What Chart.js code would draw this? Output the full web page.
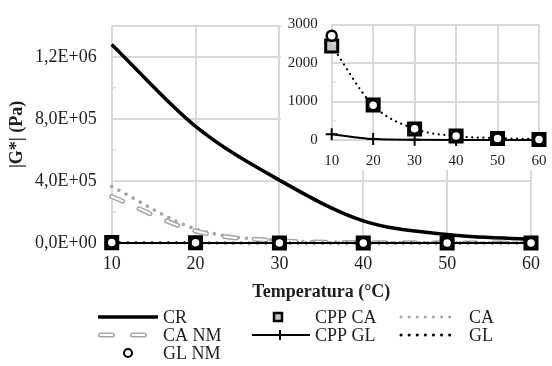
<!DOCTYPE html>
<html><head><meta charset="utf-8">
<script src="https://cdn.jsdelivr.net/npm/chart.js@4"></script>
<style>
html,body{margin:0;padding:0;background:#fff;}
#wrap{position:relative;width:552px;height:366px;overflow:hidden;background:#fff;}
#main{position:absolute;left:0;top:0;}
#inset{position:absolute;left:281px;top:0;background:#fff;}
</style></head><body>
<div id="wrap">
<canvas id="main" width="552" height="366"></canvas>
<canvas id="inset" width="271" height="170"></canvas>
</div>
<script>
// ---- data ----
const temperatures = ['10', '20', '30', '40', '50', '60'];
const crValues     = [1280000, 752000, 405000, 143000, 55000, 23000];
const caValues     = [364000, 91000, 17000, 5000, 2000, 1000];
const caNmValues   = [300000, 77000, 14000, 3000, 1000, 500];
const cppCaValues  = [2440, 910, 285, 104, 40, 15];
const cppGlValues  = [150, 25, 8, 3, 2, 1];
const glValues     = [2450, 900, 290, 100, 50, 20];
const glNmValues   = [2710, 900, 295, 105, 40, 15];
const yMajorTicks  = [0, 400000, 800000, 1200000];
const yTickLabels  = ['0,0E+00', '4,0E+05', '8,0E+05', '1,2E+06'];
const insetYTicks  = [0, 1000, 2000, 3000];
const insetYLabels = ['0', '1000', '2000', '3000'];

// ---- styling ----
const FONT = "'Liberation Serif','Times New Roman',serif";
const GRID = '#d9d9d9';
const TXT = '#1e1e1e';
const GRAY = '#a6a6a6';
const SQFILL = '#c4c4c4';
const NONE = 'rgba(0,0,0,0)';

const minorTicks = {
  id: 'minorTicks',
  afterDatasetsDraw(chart, args, opts) {
    if (!opts || !opts.values) return;
    const ctx = chart.ctx, y = chart.scales.y, left = chart.chartArea.left;
    ctx.save(); ctx.strokeStyle = GRID; ctx.lineWidth = 1.5;
    opts.values.forEach(v => { const py = y.getPixelForValue(v); ctx.beginPath(); ctx.moveTo(left, py); ctx.lineTo(left + 4, py); ctx.stroke(); });
    ctx.restore();
  }
};

const customLegend = {
  id: 'customLegend',
  afterDraw(chart, args, opts) {
    if (!opts || !opts.show) return;
    const ctx = chart.ctx;
    const ds = {}; chart.data.datasets.forEach(d => ds[d.label] = d);
    ctx.save();
    function seg(x1, x2, y, color, w, dash, cap) {
      ctx.beginPath(); ctx.setLineDash(dash || []); ctx.lineCap = cap || 'butt';
      ctx.strokeStyle = color; ctx.lineWidth = w; ctx.moveTo(x1, y); ctx.lineTo(x2, y); ctx.stroke(); ctx.setLineDash([]);
    }
    function text(t, x, y) { ctx.fillStyle = TXT; ctx.font = '18px ' + FONT; ctx.textBaseline = 'middle'; ctx.textAlign = 'left'; ctx.fillText(t, x, y + 1); }
    const r1 = 317, r2 = 335, r3 = 353;
    // CR
    seg(98, 158, r1, ds['CR'].borderColor, 3.5); text('CR', 163, r1);
    // CPP CA
    ctx.fillStyle = SQFILL; ctx.fillRect(274, r1 - 4, 8, 8); ctx.strokeStyle = '#000'; ctx.lineWidth = 2.5; ctx.strokeRect(274, r1 - 4, 8, 8);
    text('CPP CA', 315, r1);
    // CA
    seg(401, 453, r1, GRAY, 3, [0.1, 8], 'round'); text('CA', 469, r1);
    // CA NM
    seg(100.5, 146, r2, GRAY, 5, [12, 20], 'round'); seg(100.5, 146, r2, '#fff', 2, [12, 20], 'round'); text('CA NM', 163, r2);
    // CPP GL
    seg(252, 310, r2, '#000', 2); ctx.beginPath(); ctx.moveTo(280, r2 - 5); ctx.lineTo(280, r2 + 5); ctx.stroke();
    text('CPP GL', 315, r2);
    // GL
    seg(401, 453, r2, '#000', 3, [0.1, 8], 'round'); text('GL', 469, r2);
    // GL NM
    ctx.beginPath(); ctx.arc(128, r3, 4, 0, Math.PI * 2); ctx.fillStyle = '#fff'; ctx.fill(); ctx.lineWidth = 2; ctx.strokeStyle = '#000'; ctx.stroke();
    text('GL NM', 163, r3);
    ctx.restore();
  }
};

function near(v, arr) { return arr.findIndex(a => Math.abs(a - v) < 1); }

// ---- main chart ----
new Chart(document.getElementById('main'), {
  type: 'line',
  data: {
    labels: temperatures,
    datasets: [
      { label: 'GL NM', data: glNmValues, showLine: false, clip: false, pointStyle: 'circle', pointRadius: 5, pointBorderWidth: 2.5, pointBackgroundColor: '#fff', pointBorderColor: '#000', borderColor: '#000', order: 0 },
      { label: 'CPP CA', data: cppCaValues, showLine: false, clip: false, pointStyle: 'rect', pointRadius: 8.5, pointBorderWidth: 3, pointBackgroundColor: SQFILL, pointBorderColor: '#000', borderColor: '#000', order: 1 },
      { label: 'GL', data: glValues, clip: false, borderColor: '#000', borderWidth: 3, borderDash: [0.1, 8], borderCapStyle: 'round', pointRadius: 0, cubicInterpolationMode: 'monotone', order: 2 },
      { label: 'CPP GL', data: cppGlValues, clip: false, borderColor: '#000', borderWidth: 2, pointStyle: 'cross', pointRadius: 6, pointBorderWidth: 2, pointBorderColor: '#000', cubicInterpolationMode: 'monotone', order: 3 },
      { label: 'CR', data: crValues, clip: false, borderColor: '#000', borderWidth: 3.5, pointRadius: 0, cubicInterpolationMode: 'monotone', order: 4 },
      { label: 'CA NM inner', data: caNmValues, borderColor: '#fff', borderWidth: 2, borderDash: [12, 18], borderCapStyle: 'round', pointRadius: 0, cubicInterpolationMode: 'monotone', order: 5 },
      { label: 'CA NM', data: caNmValues, borderColor: GRAY, borderWidth: 5, borderDash: [12, 18], borderCapStyle: 'round', pointRadius: 0, cubicInterpolationMode: 'monotone', order: 6 },
      { label: 'CA', data: caValues, borderColor: GRAY, borderWidth: 3.5, borderDash: [0.1, 8], borderCapStyle: 'round', pointRadius: 0, cubicInterpolationMode: 'monotone', order: 7 }
    ]
  },
  options: {
    responsive: false, animation: false, events: [],
    layout: { padding: { left: 0, right: 21, top: 19, bottom: 53 } },
    plugins: { legend: { display: false }, tooltip: { enabled: false }, minorTicks: { values: [200000, 600000, 1000000] }, customLegend: { show: true } },
    scales: {
      x: {
        type: 'category', offset: false,
        ticks: { padding: 2, color: TXT, font: { family: FONT, size: 18 } },
        grid: { drawTicks: true, tickLength: 8, tickColor: NONE, lineWidth: 2, color: GRID },
        border: { color: GRID, width: 2 },
        title: { display: true, text: 'Temperatura (°C)', color: TXT, font: { family: FONT, size: 18, weight: 'bold' }, padding: { top: 0, bottom: 10 } },
        afterFit: s => { s.height = 70; }
      },
      y: {
        min: 0, max: 1400000,
        ticks: { stepSize: 200000, autoSkip: false, padding: 15, color: TXT, font: { family: FONT, size: 18 },
          callback: v => { const i = near(v, yMajorTicks); return i >= 0 ? yTickLabels[i] : ''; } },
        grid: { drawTicks: false, lineWidth: 2, color: c => (c.tick && (near(c.tick.value, yMajorTicks) >= 0 || Math.abs(c.tick.value - 1400000) < 1)) ? GRID : NONE },
        border: { color: GRID, width: 2 },
        title: { display: true, text: '|G*| (Pa)', color: TXT, font: { family: FONT, size: 18, weight: 'bold' }, padding: { top: 7, bottom: 0 } },
        afterFit: s => { s.width = 111.7; }
      }
    }
  },
  plugins: [minorTicks, customLegend]
});

// ---- inset chart ----
new Chart(document.getElementById('inset'), {
  type: 'line',
  data: {
    labels: temperatures,
    datasets: [
      { label: 'GL NM', data: glNmValues, showLine: false, clip: false, pointStyle: 'circle', pointRadius: 5, pointBorderWidth: 2.5, pointBackgroundColor: '#fff', pointBorderColor: '#000', borderColor: '#000', order: 0 },
      { label: 'CPP CA', data: cppCaValues, showLine: false, clip: false, pointStyle: 'rect', pointRadius: 8.5, pointBorderWidth: 3, pointBackgroundColor: SQFILL, pointBorderColor: '#000', borderColor: '#000', order: 1 },
      { label: 'GL', data: glValues, clip: false, borderColor: '#000', borderWidth: 2.2, borderDash: [0.1, 5.5], borderCapStyle: 'round', pointRadius: 0, cubicInterpolationMode: 'monotone', order: 2 },
      { label: 'CPP GL', data: cppGlValues, clip: false, borderColor: '#000', borderWidth: 2, pointStyle: 'cross', pointRadius: 6, pointBorderWidth: 2, pointBorderColor: '#000', cubicInterpolationMode: 'monotone', order: 3 }
    ]
  },
  options: {
    responsive: false, animation: false, events: [],
    layout: { padding: { left: 0, right: 13, top: 24.5, bottom: 0 } },
    plugins: { legend: { display: false }, tooltip: { enabled: false }, minorTicks: { values: [500, 1500, 2500] } },
    scales: {
      x: {
        type: 'category', offset: false,
        ticks: { padding: 2, color: TXT, font: { family: FONT, size: 15 } },
        grid: { drawTicks: true, tickLength: 10, tickColor: NONE, lineWidth: 2, color: GRID },
        border: { color: GRID, width: 2 },
        afterFit: s => { s.height = 30; }
      },
      y: {
        min: 0, max: 3000,
        ticks: { stepSize: 500, autoSkip: false, padding: 14, color: TXT, font: { family: FONT, size: 15 },
          callback: v => { const i = near(v, insetYTicks); return i >= 0 ? insetYLabels[i] : ''; } },
        grid: { drawTicks: false, lineWidth: 2, color: c => (c.tick && near(c.tick.value, insetYTicks) >= 0) ? GRID : NONE },
        border: { color: GRID, width: 2 },
        afterFit: s => { s.width = 50.7; }
      }
    }
  },
  plugins: [minorTicks]
});
</script>
</body></html>
